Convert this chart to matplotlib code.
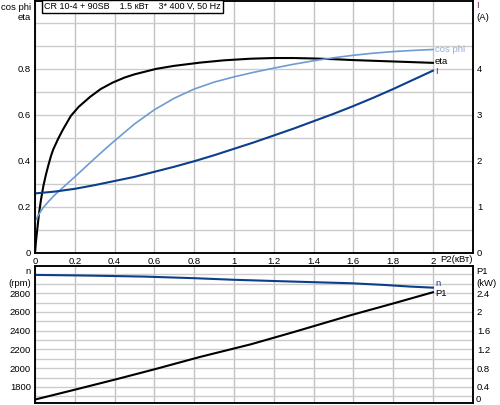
import matplotlib.pyplot as plt

plt.rcParams['font.family'] = ['Liberation Sans', 'DejaVu Sans']

# top panel: eta, cos phi (left), I (right) vs P2
p2_eta = [0, 0.005, 0.01, 0.02, 0.03, 0.042, 0.055, 0.067, 0.08, 0.092, 0.116, 0.14, 0.18, 0.22,
          0.277, 0.33, 0.39, 0.45, 0.5, 0.61, 0.7, 0.83, 0.95, 1.083, 1.2, 1.3, 1.4, 1.5, 1.6,
          1.7, 1.8, 1.9, 2.0]
eta = [0, 0.05, 0.09, 0.17, 0.23, 0.29, 0.34, 0.38, 0.42, 0.45, 0.495, 0.535, 0.595, 0.635,
       0.678, 0.712, 0.74, 0.762, 0.776, 0.80, 0.813, 0.827, 0.837, 0.844, 0.847, 0.847, 0.845,
       0.842, 0.838, 0.835, 0.832, 0.829, 0.826]

p2_cos = [0, 0.02, 0.04, 0.07, 0.1, 0.15, 0.2, 0.25, 0.3, 0.35, 0.4, 0.5, 0.6, 0.7, 0.8, 0.9,
          1.0, 1.1, 1.2, 1.3, 1.4, 1.5, 1.6, 1.7, 1.8, 1.9, 2.0]
cosphi = [0.137, 0.168, 0.195, 0.225, 0.252, 0.291, 0.33, 0.37, 0.41, 0.449, 0.487, 0.56, 0.622,
          0.672, 0.712, 0.742, 0.765, 0.785, 0.803, 0.82, 0.835, 0.848, 0.859, 0.868, 0.875,
          0.88, 0.884]

p2_i = [0, 0.1, 0.2, 0.3, 0.4, 0.5, 0.6, 0.7, 0.8, 0.9, 1.0, 1.1, 1.2, 1.3, 1.4, 1.5, 1.6,
        1.7, 1.8, 1.9, 2.0]
current = [1.29, 1.33, 1.39, 1.47, 1.56, 1.65, 1.76, 1.87, 1.99, 2.12, 2.26, 2.40, 2.55, 2.70,
           2.86, 3.02, 3.19, 3.37, 3.56, 3.76, 3.96]

# bottom panel: n (left) and P1 (right)
p2_n = [0, 0.2, 0.4, 0.55, 0.8, 1.0, 1.2, 1.42, 1.59, 1.755, 1.89, 2.0]
speed = [2995, 2990, 2983, 2977, 2960, 2943, 2930, 2916, 2906, 2888, 2870, 2859]

p2_p1 = [0, 0.2, 0.41, 0.6, 0.83, 1.083, 1.3, 1.587, 1.8, 2.0]
p1 = [0.13, 0.34, 0.565, 0.775, 1.04, 1.307, 1.57, 1.93, 2.18, 2.42]

xticks = [0, 0.2, 0.4, 0.6, 0.8, 1, 1.2, 1.4, 1.6, 1.8, 2]
xlabels = ['0', '0.2', '0.4', '0.6', '0.8', '1', '1.2', '1.4', '1.6', '1.8', '2']
eta_ticks = [0, 0.2, 0.4, 0.6, 0.8]
eta_grid = [0.1, 0.3, 0.5, 0.7, 0.9, 1.0]
i_ticks = [0, 1, 2, 3, 4]
n_ticks = [1800, 2000, 2200, 2400, 2600, 2800]
n_grid = [1700, 1900, 2100, 2300, 2500, 2700, 2900, 3000]
p1_ticks = [0.4, 0.8, 1.2, 1.6, 2.0, 2.4]
p1_labels = ['0.4', '0.8', '1.2', '1.6', '2', '2.4']

fs = 6.8
W, H = 500, 405


def px(x, y):
    return x / W, 1 - y / H


fig = plt.figure(figsize=(5, 4.05), dpi=100)
ax1 = fig.add_axes([0.07, 0.376, 0.8754, 0.6215])
ax2 = fig.add_axes([0.07, 0.0042, 0.8754, 0.339])

# top left
ax1.set_xlim(0, 2.2)
ax1.set_xticks(xticks)
ax1.set_xticklabels(xlabels)
ax1.set_ylim(0, 1.095)
ax1.set_yticks(eta_ticks)
ax1.set_yticklabels(['0', '0.2', '0.4', '0.6', '0.8'])
ax1.set_yticks(eta_grid, minor=True)
ax1.plot(p2_eta, eta, color='black', lw=1.5, zorder=3)
ax1.plot(p2_cos, cosphi, color='#6f9bd3', lw=1.2, zorder=3)

# bottom left
ax2.set_xlim(0, 2.2)
ax2.set_xticks(xticks)
ax2.set_xticklabels([])
ax2.set_ylim(1625, 3090)
ax2.set_yticks(n_ticks)
ax2.set_yticklabels([str(v) for v in n_ticks])
ax2.set_yticks(n_grid, minor=True)
ax2.plot(p2_n, speed, color='#0b3f8c', lw=1.5, zorder=3)

for ax in (ax1, ax2):
    ax.grid(True, which='major', axis='x', color='#c2c2c2', linewidth=1)
    ax.grid(True, which='both', axis='y', color='#cccccc', linewidth=1)

ax1r = ax1.twinx()
ax1r.set_ylim(0, 5 * 1.095)
ax1r.set_yticks(i_ticks)
ax1r.set_yticklabels([str(v) for v in i_ticks])
ax1r.plot(p2_i, current, color='#0b3f8c', lw=1.5)

ax2r = ax2.twinx()
ax2r.set_ylim(0.05, 2.98)
ax2r.set_yticks(p1_ticks)
ax2r.set_yticklabels(p1_labels)
ax2r.plot(p2_p1, p1, color='black', lw=1.5)

for ax in (ax1, ax2, ax1r, ax2r):
    ax.tick_params(length=0, pad=3, labelsize=fs, which='both')
    for s in ax.spines.values():
        s.set_linewidth(1.1)

# axis captions
kw = dict(fontsize=fs, va='center')
fig.text(*px(31, 7), 'cos phi', ha='right', **kw)
fig.text(*px(31, 17), 'eta', ha='right', **kw)
fig.text(*px(476, 5), 'I', ha='left', color='#70205a', **kw)
fig.text(*px(476, 17), '(A)', ha='left', **kw)
fig.text(*px(31, 271), 'n', ha='right', **kw)
fig.text(*px(31, 283), '(rpm)', ha='right', **kw)
fig.text(*px(476, 272), 'P1', ha='left', **kw)
fig.text(*px(476, 283), '(kW)', ha='left', **kw)
fig.text(*px(476, 400), '0', ha='left', **kw)
fig.text(*px(440, 260), 'P2(кВт)', ha='left', **kw)

# curve end labels
fig.text(*px(435, 49), 'cos phi', ha='left', color='#8fb0dc', **kw)
fig.text(*px(435, 62), 'eta', ha='left', color='black', **kw)
fig.text(*px(435, 72), 'I', ha='left', color='#70205a', **kw)
fig.text(*px(435, 283), 'n', ha='left', color='#0b3f8c', **kw)
fig.text(*px(435, 293), 'P1', ha='left', color='black', **kw)

fig.text(*px(44, 6.5), 'CR 10-4 + 90SB    1.5 кВт    3* 400 V, 50 Hz', ha='left', fontsize=6.5,
         va='center', bbox=dict(boxstyle='square,pad=0.25', fc='white', ec='black', lw=1))

fig.savefig('out.png', dpi=100)
